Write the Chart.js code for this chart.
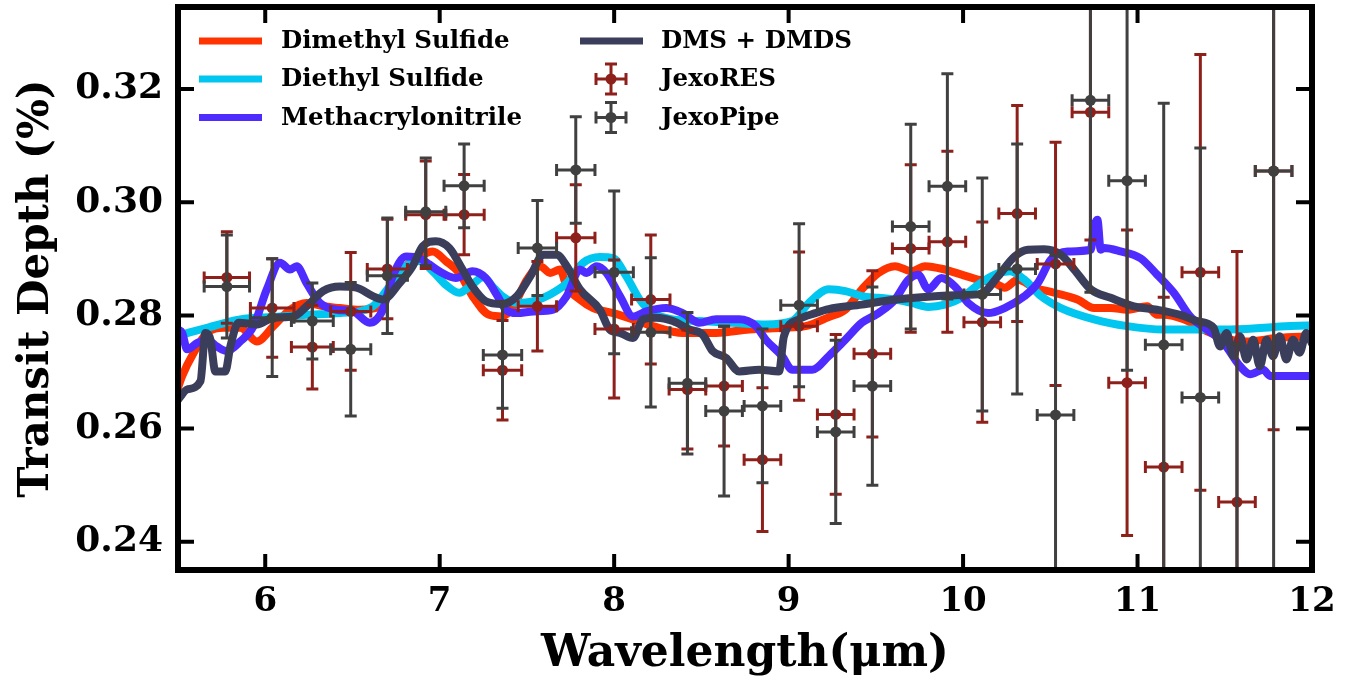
<!DOCTYPE html>
<html>
<head>
<meta charset="utf-8">
<title>Transit Depth</title>
<script src="https://cdn.jsdelivr.net/npm/chart.js@4"></script>
<style>
  body { margin: 0; background: #fff; }
  canvas { display: block; }
</style>
</head>
<body>
<canvas id="chart" width="1363" height="680"></canvas>
<script>
// axis ticks
const xTicks = [6, 7, 8, 9, 10, 11, 12];
const yTicks = [0.24, 0.26, 0.28, 0.30, 0.32];

// model spectra (wavelength in um, transit depth in %)
const dmsWl = [5.50, 5.524, 5.59, 5.666, 5.762, 5.857, 5.952, 6.047, 6.142, 6.237, 6.332, 6.427, 6.541, 6.655, 6.731, 6.807, 6.884, 6.96, 7.035, 7.112, 7.188, 7.283, 7.359, 7.423, 7.50, 7.576, 7.633, 7.69, 7.728, 7.804, 7.88, 7.994, 8.108, 8.222, 8.393, 8.584, 8.774, 8.963, 9.097, 9.23, 9.325, 9.42, 9.515, 9.61, 9.705, 9.782, 9.896, 9.991, 10.086, 10.181, 10.238, 10.314, 10.409, 10.523, 10.656, 10.751, 10.846, 10.941, 11.055, 11.112, 11.15, 11.265, 11.398, 11.531, 11.626, 11.80, 12.0];
const dmsDepth = [0.2672, 0.2693, 0.2734, 0.2769, 0.2778, 0.2778, 0.2754, 0.2781, 0.2810, 0.2822, 0.2816, 0.2813, 0.2810, 0.2816, 0.2857, 0.2887, 0.2904, 0.2913, 0.2896, 0.2875, 0.2834, 0.2801, 0.2798, 0.2816, 0.2863, 0.2887, 0.2875, 0.2881, 0.2851, 0.2828, 0.2813, 0.2804, 0.2793, 0.2781, 0.2769, 0.2769, 0.2775, 0.2778, 0.2781, 0.2797, 0.2810, 0.2846, 0.2875, 0.2887, 0.2878, 0.2887, 0.2881, 0.2872, 0.2863, 0.2857, 0.2849, 0.2863, 0.2849, 0.2840, 0.2828, 0.2813, 0.2813, 0.2810, 0.2816, 0.2801, 0.2801, 0.2793, 0.2772, 0.2757, 0.2754, 0.2760, 0.2763];

const desWl = [5.50, 5.524, 5.666, 5.857, 6.047, 6.237, 6.427, 6.617, 6.712, 6.807, 6.884, 6.96, 7.035, 7.112, 7.188, 7.25, 7.30, 7.359, 7.443, 7.537, 7.633, 7.728, 7.823, 7.918, 7.994, 8.07, 8.146, 8.222, 8.336, 8.488, 8.678, 8.869, 9.021, 9.116, 9.23, 9.325, 9.42, 9.515, 9.61, 9.705, 9.80, 9.896, 9.991, 10.086, 10.181, 10.267, 10.352, 10.447, 10.561, 10.751, 10.941, 11.15, 11.531, 11.968, 12.0];
const desDepth = [0.2763, 0.2766, 0.2778, 0.2793, 0.2797, 0.2801, 0.2804, 0.2816, 0.2851, 0.2887, 0.2896, 0.2878, 0.2854, 0.2840, 0.2855, 0.2868, 0.2852, 0.2834, 0.2822, 0.2825, 0.2837, 0.2857, 0.2893, 0.2903, 0.2901, 0.2869, 0.2828, 0.2804, 0.2793, 0.2790, 0.2787, 0.2784, 0.2790, 0.2822, 0.2846, 0.2843, 0.2834, 0.2831, 0.2828, 0.2822, 0.2815, 0.2819, 0.2831, 0.2854, 0.2872, 0.2878, 0.2863, 0.2834, 0.2813, 0.2793, 0.2781, 0.2775, 0.2775, 0.2782, 0.2782];

const mcnWl = [5.50, 5.524, 5.552, 5.609, 5.666, 5.723, 5.78, 5.857, 5.933, 6.009, 6.085, 6.142, 6.18, 6.237, 6.313, 6.408, 6.503, 6.598, 6.674, 6.731, 6.807, 6.884, 6.941, 6.998, 7.092, 7.188, 7.264, 7.33, 7.38, 7.443, 7.537, 7.651, 7.728, 7.804, 7.842, 7.899, 7.956, 8.033, 8.108, 8.184, 8.298, 8.393, 8.488, 8.584, 8.717, 8.812, 8.869, 8.963, 9.021, 9.135, 9.23, 9.325, 9.42, 9.515, 9.61, 9.686, 9.743, 9.80, 9.876, 9.953, 10.029, 10.143, 10.238, 10.352, 10.428, 10.504, 10.599, 10.732, 10.751, 10.77, 10.789, 10.808, 10.903, 11.017, 11.112, 11.208, 11.302, 11.398, 11.493, 11.588, 11.645, 11.721, 11.759, 12.0];
const mcnDepth = [0.2775, 0.2769, 0.2740, 0.2751, 0.2757, 0.2745, 0.2737, 0.2754, 0.2781, 0.2846, 0.2893, 0.2881, 0.2887, 0.2857, 0.2822, 0.2810, 0.2807, 0.2787, 0.2810, 0.2869, 0.2904, 0.2901, 0.2890, 0.2878, 0.2866, 0.2878, 0.2866, 0.2835, 0.2810, 0.2804, 0.2807, 0.2810, 0.2834, 0.2881, 0.2875, 0.2887, 0.2875, 0.2834, 0.2798, 0.2807, 0.2813, 0.2804, 0.2787, 0.2793, 0.2793, 0.2781, 0.2757, 0.2728, 0.2704, 0.2704, 0.2728, 0.2757, 0.2787, 0.2804, 0.2828, 0.2863, 0.2872, 0.2846, 0.2866, 0.2851, 0.2822, 0.2804, 0.2813, 0.2834, 0.2857, 0.2899, 0.2913, 0.2916, 0.2957, 0.2969, 0.2916, 0.2919, 0.2913, 0.2901, 0.2872, 0.2840, 0.2798, 0.2775, 0.2751, 0.2710, 0.2696, 0.2704, 0.2693, 0.2693];

const mixWl = [5.50, 5.515, 5.552, 5.629, 5.657, 5.686, 5.714, 5.771, 5.80, 5.847, 5.952, 6.047, 6.161, 6.237, 6.332, 6.427, 6.522, 6.617, 6.674, 6.77, 6.845, 6.902, 6.978, 7.055, 7.131, 7.188, 7.264, 7.359, 7.443, 7.519, 7.594, 7.671, 7.728, 7.804, 7.918, 7.975, 8.033, 8.108, 8.165, 8.241, 8.336, 8.431, 8.507, 8.564, 8.641, 8.717, 8.831, 8.945, 8.973, 9.059, 9.154, 9.23, 9.42, 9.61, 9.80, 9.991, 10.104, 10.20, 10.295, 10.371, 10.466, 10.561, 10.637, 10.732, 10.846, 10.979, 11.112, 11.245, 11.341, 11.436, 11.473, 11.511, 11.549, 11.587, 11.625, 11.663, 11.701, 11.739, 11.777, 11.815, 11.853, 11.891, 11.929, 11.967, 12.0];
const mixDepth = [0.2651, 0.2657, 0.2669, 0.2684, 0.2769, 0.2757, 0.2701, 0.2701, 0.2745, 0.2787, 0.2784, 0.2796, 0.2798, 0.2816, 0.2843, 0.2851, 0.2849, 0.2834, 0.2828, 0.2857, 0.2887, 0.2922, 0.2931, 0.2919, 0.2881, 0.2851, 0.2825, 0.2820, 0.2834, 0.2869, 0.2907, 0.2907, 0.2887, 0.2846, 0.2810, 0.2775, 0.2769, 0.2760, 0.2793, 0.2796, 0.2790, 0.2775, 0.2766, 0.2737, 0.2725, 0.2701, 0.2704, 0.2701, 0.2763, 0.2793, 0.2804, 0.2811, 0.2819, 0.2828, 0.2833, 0.2836, 0.2838, 0.2869, 0.2904, 0.2916, 0.2917, 0.2907, 0.2881, 0.2846, 0.2831, 0.2816, 0.2810, 0.2801, 0.2790, 0.2778, 0.2745, 0.2769, 0.2728, 0.2763, 0.2722, 0.2757, 0.2710, 0.2757, 0.2728, 0.2763, 0.2722, 0.2757, 0.2734, 0.2769, 0.2750];

// observed points (both reductions share the same bins)
const obsWl = [5.78, 6.04, 6.27, 6.49, 6.70, 6.92, 7.14, 7.36, 7.56, 7.78, 8.00, 8.21, 8.42, 8.63, 8.85, 9.06, 9.27, 9.48, 9.70, 9.91, 10.11, 10.31, 10.53, 10.73, 10.94, 11.15, 11.36, 11.57, 11.78];
const obsWlErr = [0.13, 0.125, 0.12, 0.115, 0.115, 0.115, 0.115, 0.11, 0.11, 0.11, 0.11, 0.11, 0.105, 0.105, 0.105, 0.105, 0.105, 0.105, 0.105, 0.105, 0.105, 0.105, 0.105, 0.105, 0.105, 0.105, 0.105, 0.105, 0.105];

const resDepth = [0.2867, 0.2813, 0.2744, 0.2807, 0.2882, 0.2978, 0.2978, 0.2703, 0.2816, 0.2937, 0.2776, 0.2828, 0.2669, 0.2675, 0.2545, 0.2781, 0.2625, 0.2732, 0.2918, 0.2930, 0.2788, 0.2980, 0.2891, 0.3159, 0.2681, 0.2532, 0.2876, 0.2470, 0.3055];
const resErr = [0.0081, 0.0087, 0.0074, 0.0104, 0.0088, 0.0095, 0.0071, 0.0088, 0.0079, 0.0094, 0.0122, 0.0114, 0.0105, 0.0106, 0.0127, 0.0131, 0.0141, 0.0147, 0.0148, 0.0160, 0.0177, 0.0191, 0.0215, 0.0226, 0.0270, 0.0300, 0.0385, 0.0443, 0.0457];

const pipeDepth = [0.2851, 0.2796, 0.2790, 0.2740, 0.2870, 0.2983, 0.3029, 0.2730, 0.2919, 0.3057, 0.2876, 0.2770, 0.2680, 0.2631, 0.2640, 0.2818, 0.2594, 0.2675, 0.2957, 0.3028, 0.2837, 0.2882, 0.2624, 0.3180, 0.3038, 0.2748, 0.2655, 0.2290, 0.3055];
const pipeErr = [0.0091, 0.0104, 0.0067, 0.0118, 0.0102, 0.0095, 0.0074, 0.0094, 0.0084, 0.0094, 0.0144, 0.0132, 0.0125, 0.0150, 0.0136, 0.0144, 0.0162, 0.0175, 0.0181, 0.0199, 0.0206, 0.0221, 0.0282, 0.0339, 0.0335, 0.0427, 0.0441, 0.0459, 0.0800];

const serif = 'DejaVu Serif';

function pts(xs, ys) {
    return xs.map((x, i) => ({ x: x, y: ys[i] }));
}

function modelLine(label, xs, ys, color, order) {
    return {
        label: label,
        data: pts(xs, ys),
        showLine: true,
        borderColor: color,
        backgroundColor: color,
        borderWidth: 8,
        borderCapStyle: 'round',
        borderJoinStyle: 'round',
        cubicInterpolationMode: 'monotone',
        pointRadius: 0,
        pointHoverRadius: 0,
        order: order,
        legendKind: 'line'
    };
}

function obsSet(label, ys, errs, color, order) {
    return {
        label: label,
        data: pts(obsWl, ys),
        xErr: obsWlErr,
        yErr: errs,
        showLine: false,
        backgroundColor: color,
        borderColor: color,
        borderWidth: 0,
        pointRadius: 5.5,
        pointHoverRadius: 5.5,
        order: order,
        legendKind: 'errorbar'
    };
}

// error bars with caps, drawn just under each point set
const errorBars = {
    id: 'errorBars',
    beforeDatasetDraw(chart, args) {
        const ds = chart.data.datasets[args.index];
        if (!ds.yErr) return;
        const { ctx, chartArea: a } = chart;
        const xs = chart.scales.x, ys = chart.scales.y;
        const cap = 6;
        ctx.save();
        ctx.beginPath();
        ctx.rect(a.left, a.top, a.right - a.left, a.bottom - a.top);
        ctx.clip();
        ctx.strokeStyle = ds.borderColor;
        ctx.lineWidth = 3;
        ds.data.forEach(function (p, i) {
            const px = xs.getPixelForValue(p.x);
            const py = ys.getPixelForValue(p.y);
            const x0 = xs.getPixelForValue(p.x - ds.xErr[i]);
            const x1 = xs.getPixelForValue(p.x + ds.xErr[i]);
            const y0 = ys.getPixelForValue(p.y - ds.yErr[i]);
            const y1 = ys.getPixelForValue(p.y + ds.yErr[i]);
            ctx.beginPath();
            ctx.moveTo(x0, py); ctx.lineTo(x1, py);
            ctx.moveTo(px, y0); ctx.lineTo(px, y1);
            ctx.moveTo(x0, py - cap); ctx.lineTo(x0, py + cap);
            ctx.moveTo(x1, py - cap); ctx.lineTo(x1, py + cap);
            ctx.moveTo(px - cap, y0); ctx.lineTo(px + cap, y0);
            ctx.moveTo(px - cap, y1); ctx.lineTo(px + cap, y1);
            ctx.stroke();
        });
        ctx.restore();
    }
};

// thick frame with inward ticks on all four sides
const frame = {
    id: 'frame',
    afterDatasetsDraw(chart) {
        const { ctx, chartArea: a } = chart;
        const xs = chart.scales.x, ys = chart.scales.y;
        const len = 16;
        ctx.save();
        ctx.strokeStyle = '#000';
        ctx.lineWidth = 4;
        ctx.beginPath();
        xTicks.forEach(function (v) {
            const px = xs.getPixelForValue(v);
            ctx.moveTo(px, a.bottom); ctx.lineTo(px, a.bottom - len);
            ctx.moveTo(px, a.top); ctx.lineTo(px, a.top + len);
        });
        yTicks.forEach(function (v) {
            const py = ys.getPixelForValue(v);
            ctx.moveTo(a.left, py); ctx.lineTo(a.left + len, py);
            ctx.moveTo(a.right, py); ctx.lineTo(a.right - len, py);
        });
        ctx.stroke();
        ctx.lineWidth = 6;
        ctx.strokeRect(a.left, a.top, a.right - a.left, a.bottom - a.top);
        ctx.restore();
    }
};

// two-column legend in the upper left, built from the datasets
const legendBox = {
    id: 'legendBox',
    afterDraw(chart) {
        const ctx = chart.ctx;
        const cols = [{ lineX: 199, textX: 281 }, { lineX: 580, textX: 661 }];
        const rows = [41, 79, 117.5];
        ctx.save();
        ctx.font = 'bold 24.5px "' + serif + '"';
        ctx.textBaseline = 'middle';
        ctx.fillStyle = '#000';
        chart.data.datasets.forEach(function (ds, i) {
            const c = cols[Math.floor(i / 3)];
            const y = rows[i % 3];
            if (ds.legendKind === 'line') {
                ctx.strokeStyle = ds.borderColor;
                ctx.lineWidth = 7;
                ctx.lineCap = 'butt';
                ctx.beginPath();
                ctx.moveTo(c.lineX, y); ctx.lineTo(c.lineX + 63, y);
                ctx.stroke();
            } else {
                const cx = c.lineX + 31, r = 15, cap = 6;
                ctx.strokeStyle = ds.borderColor;
                ctx.lineWidth = 3;
                ctx.beginPath();
                ctx.moveTo(cx - r, y); ctx.lineTo(cx + r, y);
                ctx.moveTo(cx, y - r); ctx.lineTo(cx, y + r);
                ctx.moveTo(cx - r, y - cap); ctx.lineTo(cx - r, y + cap);
                ctx.moveTo(cx + r, y - cap); ctx.lineTo(cx + r, y + cap);
                ctx.moveTo(cx - cap, y - r); ctx.lineTo(cx + cap, y - r);
                ctx.moveTo(cx - cap, y + r); ctx.lineTo(cx + cap, y + r);
                ctx.stroke();
                ctx.fillStyle = ds.backgroundColor;
                ctx.beginPath();
                ctx.arc(cx, y, 5.5, 0, Math.PI * 2);
                ctx.fill();
            }
            ctx.fillStyle = '#000';
            ctx.fillText(ds.label, c.textX, y + 1);
        });
        ctx.restore();
    }
};

const ctx = document.getElementById('chart').getContext('2d');

new Chart(ctx, {
    type: 'scatter',
    data: {
        datasets: [
            modelLine('Dimethyl Sulfide', dmsWl, dmsDepth, '#ff3300', 6),
            modelLine('Diethyl Sulfide', desWl, desDepth, '#00c6f0', 5),
            modelLine('Methacrylonitrile', mcnWl, mcnDepth, '#4e2cff', 4),
            modelLine('DMS + DMDS', mixWl, mixDepth, '#3a3e5a', 3),
            obsSet('JexoRES', resDepth, resErr, '#8e201b', 2),
            obsSet('JexoPipe', pipeDepth, pipeErr, '#404040', 1)
        ]
    },
    options: {
        responsive: false,
        animation: false,
        devicePixelRatio: 1,
        events: [],
        layout: { padding: { left: 0, right: 51, top: 7, bottom: 0 } },
        plugins: {
            legend: { display: false },
            tooltip: { enabled: false }
        },
        scales: {
            x: {
                type: 'linear',
                min: 5.5,
                max: 12,
                afterBuildTicks: function (s) { s.ticks = xTicks.map(v => ({ value: v })); },
                afterFit: function (s) { s.height = 110; s.paddingLeft = 0; s.paddingRight = 0; },
                grid: { display: false, drawTicks: false, tickLength: 0 },
                border: { display: false },
                ticks: {
                    autoSkip: false,
                    maxRotation: 0,
                    padding: 12,
                    color: '#000',
                    font: { family: serif, weight: 'bold', size: 34 },
                    callback: v => String(v)
                },
                title: {
                    display: true,
                    text: 'Wavelength(μm)',
                    color: '#000',
                    font: { family: serif, weight: 'bold', size: 44, lineHeight: 1 },
                    padding: { top: 0, bottom: 3 }
                }
            },
            y: {
                type: 'linear',
                min: 0.235,
                max: 0.3345,
                afterBuildTicks: function (s) { s.ticks = yTicks.map(v => ({ value: v })); },
                afterFit: function (s) { s.width = 178; s.paddingTop = 0; s.paddingBottom = 0; },
                grid: { display: false, drawTicks: false, tickLength: 0 },
                border: { display: false },
                ticks: {
                    padding: 15,
                    color: '#000',
                    font: { family: serif, weight: 'bold', size: 36 },
                    callback: v => v.toFixed(2)
                },
                title: {
                    display: true,
                    text: 'Transit Depth (%)',
                    color: '#000',
                    font: { family: serif, weight: 'bold', size: 42, lineHeight: 1 },
                    padding: { top: 16, bottom: 0 }
                }
            }
        }
    },
    plugins: [errorBars, frame, legendBox]
});
</script>
</body>
</html>
